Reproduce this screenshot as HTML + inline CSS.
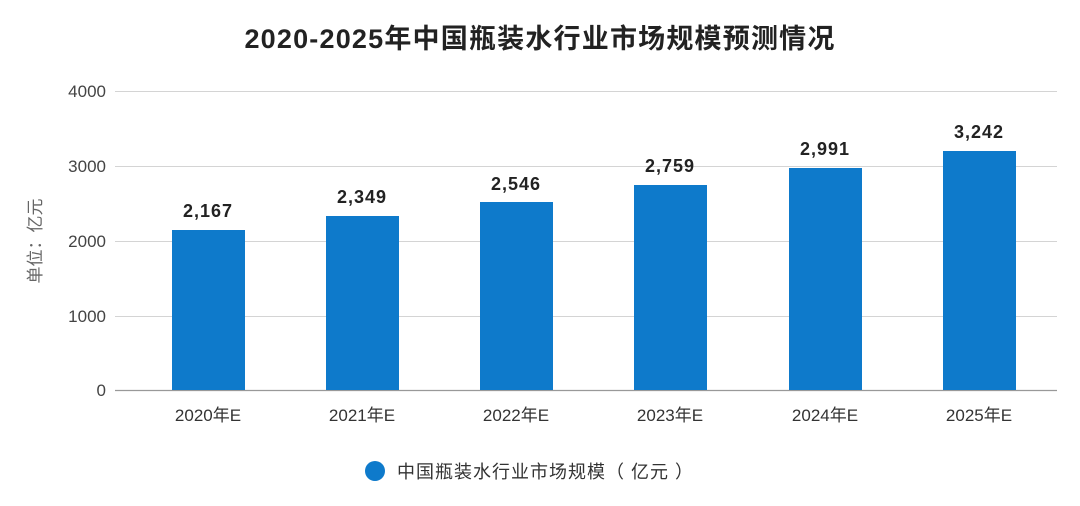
<!DOCTYPE html>
<html><head><meta charset="utf-8"><style>
html,body{margin:0;padding:0;background:#fff;}
svg{display:block;font-family:"Liberation Sans","Noto Sans CJK SC",sans-serif;}
</style></head><body>
<svg width="1080" height="506" viewBox="0 0 1080 506">
<rect width="1080" height="506" fill="#fff"/>
<text x="540" y="48" text-anchor="middle" font-size="27" font-weight="bold" fill="#222" letter-spacing="1.2">2020-2025年中国瓶装水行业市场规模预测情况</text>
<g stroke="#d4d4d4" stroke-width="1">
<line x1="115" y1="91.5" x2="1057" y2="91.5"/>
<line x1="115" y1="166.5" x2="1057" y2="166.5"/>
<line x1="115" y1="241.5" x2="1057" y2="241.5"/>
<line x1="115" y1="316.5" x2="1057" y2="316.5"/>
</g>
<line x1="115" y1="390.5" x2="1057" y2="390.5" stroke="#999" stroke-width="1.2"/>
<g font-size="17" fill="#444" text-anchor="end">
<text x="106" y="97">4000</text>
<text x="106" y="172">3000</text>
<text x="106" y="247">2000</text>
<text x="106" y="322">1000</text>
<text x="106" y="396">0</text>
</g>
<text transform="translate(41,241) rotate(-90)" text-anchor="middle" font-size="17" fill="#666">单位：亿元</text>
<g fill="#0e7acb">
<rect x="172" y="230" width="73" height="160"/>
<rect x="326" y="216" width="73" height="174"/>
<rect x="480" y="202" width="73" height="188"/>
<rect x="634" y="185" width="73" height="205"/>
<rect x="789" y="168" width="73" height="222"/>
<rect x="943" y="151" width="73" height="239"/>
</g>
<g font-size="18" font-weight="bold" fill="#222" text-anchor="middle" letter-spacing="1">
<text x="208" y="217">2,167</text>
<text x="362" y="203">2,349</text>
<text x="516" y="190">2,546</text>
<text x="670" y="172">2,759</text>
<text x="825" y="155">2,991</text>
<text x="979" y="138">3,242</text>
</g>
<g font-size="17" fill="#333" text-anchor="middle">
<text x="208" y="421">2020年E</text>
<text x="362" y="421">2021年E</text>
<text x="516" y="421">2022年E</text>
<text x="670" y="421">2023年E</text>
<text x="825" y="421">2024年E</text>
<text x="979" y="421">2025年E</text>
</g>
<circle cx="375" cy="471" r="10" fill="#0e7acb"/>
<text x="397" y="478" font-size="18" fill="#333" letter-spacing="1">中国瓶装水行业市场规模（ 亿元 ）</text>
</svg>
</body></html>
